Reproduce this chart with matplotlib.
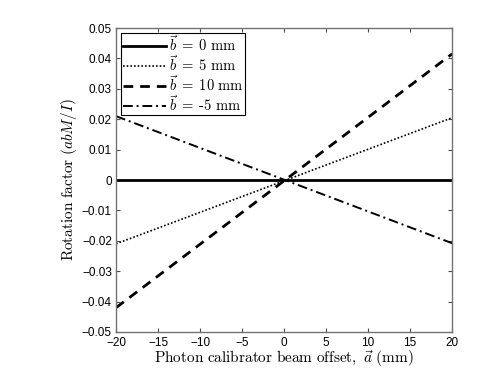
import matplotlib
matplotlib.use('Agg')
import matplotlib.pyplot as plt

plt.rcParams['mathtext.fontset'] = 'cm'
plt.rcParams['font.family'] = ['Liberation Sans', 'DejaVu Sans']

# beam offset a (mm) at the two ends of each line
offset = [-20, 20]
rot_b0 = [0.0, 0.0]
rot_b5 = [-0.021, 0.0205]
rot_b10 = [-0.042, 0.0415]
rot_bm5 = [0.021, -0.0208]

labels = [r'$\vec{b}\;=\;0\ \mathrm{mm}$', r'$\vec{b}\;=\;5\ \mathrm{mm}$',
          r'$\vec{b}\;=\;10\ \mathrm{mm}$', r'$\vec{b}\;=\;\mathrm{\text{-}5\ mm}$']

fig = plt.figure(figsize=(4.98, 3.74), dpi=100)
ax = fig.add_axes([0.233, 0.1123, 0.675, 0.8128])

ax.plot(offset, rot_b0, color='k', lw=2.0, ls='-', label=labels[0])
ax.plot(offset, rot_b5, color='k', lw=1.2, ls=(0, (1, 1.2)), label=labels[1])
ax.plot(offset, rot_b10, color='k', lw=2.0, ls=(0, (3.5, 2.5)), label=labels[2])
ax.plot(offset, rot_bm5, color='k', lw=1.4, ls=(0, (5, 2, 1, 2)), label=labels[3])

ax.set_xlim(-20, 20)
ax.set_ylim(-0.05, 0.05)
ax.set_xticks(range(-20, 21, 5))
ax.set_yticks([-0.05 + 0.01 * i for i in range(11)])
ax.set_yticklabels(['\u22120.05', '\u22120.04', '\u22120.03', '\u22120.02', '\u22120.01',
                    '0', '0.01', '0.02', '0.03', '0.04', '0.05'])
ax.set_xticklabels(['\u221220', '\u221215', '\u221210', '\u22125', '0', '5', '10', '15', '20'])
ax.tick_params(direction='in', top=True, right=True, labelsize=8.5, length=3,
               color='0.3')
ax.tick_params(axis='x', pad=3.5)
ax.tick_params(axis='y', pad=3)
for sp in ax.spines.values():
    sp.set_color('0.45')
    sp.set_linewidth(1.0)

ax.set_xlabel(r'$\mathrm{Photon\ calibrator\ beam\ offset,}\ \vec{a}\ \mathrm{(mm)}$',
              fontsize=11, labelpad=0)
ax.set_ylabel(r'$\mathrm{Rotation\ factor}\ (abM/I)$', fontsize=11, labelpad=2)

leg = ax.legend(loc='upper left', fontsize=10.5, fancybox=False, framealpha=1,
                edgecolor='k', borderpad=0.1, labelspacing=0.0, handlelength=3.0,
                handletextpad=0.2, borderaxespad=0.35)
leg.get_frame().set_linewidth(0.8)

fig.savefig('out.png', dpi=100)
